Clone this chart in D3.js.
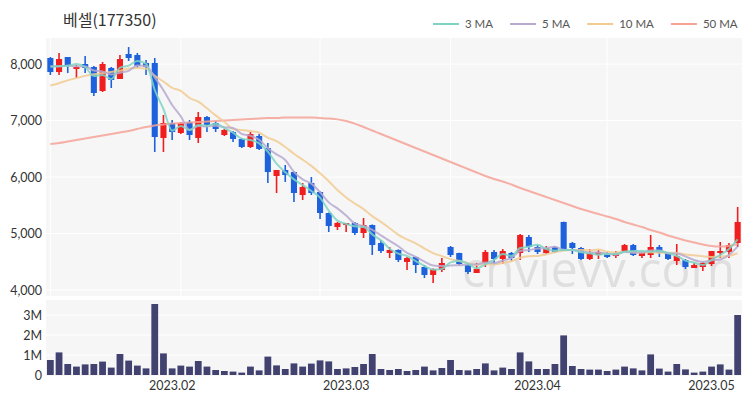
<!DOCTYPE html>
<html><head><meta charset="utf-8">
<script src="https://cdn.jsdelivr.net/npm/d3@7"></script>
<style>body{margin:0;background:#fff} svg{display:block}</style>
</head><body><svg id="c" width="750" height="400"></svg>
<script>
const title = "베셀(177350)";
const dates = [
"2023-01-10","2023-01-11","2023-01-12","2023-01-13","2023-01-16","2023-01-17","2023-01-18","2023-01-19","2023-01-20","2023-01-25","2023-01-26","2023-01-27","2023-01-30","2023-01-31",
"2023-02-01","2023-02-02","2023-02-03","2023-02-06","2023-02-07","2023-02-08","2023-02-09","2023-02-10","2023-02-13","2023-02-14","2023-02-15","2023-02-16","2023-02-17","2023-02-20","2023-02-21","2023-02-22","2023-02-23","2023-02-24","2023-02-27","2023-02-28",
"2023-03-02","2023-03-03","2023-03-06","2023-03-07","2023-03-08","2023-03-09","2023-03-10","2023-03-13","2023-03-14","2023-03-15","2023-03-16","2023-03-17","2023-03-20","2023-03-21","2023-03-22","2023-03-23","2023-03-24","2023-03-27","2023-03-28","2023-03-29","2023-03-30","2023-03-31",
"2023-04-03","2023-04-04","2023-04-05","2023-04-06","2023-04-07","2023-04-10","2023-04-11","2023-04-12","2023-04-13","2023-04-14","2023-04-17","2023-04-18","2023-04-19","2023-04-20","2023-04-21","2023-04-24","2023-04-25","2023-04-26","2023-04-27","2023-04-28",
"2023-05-02","2023-05-03","2023-05-04","2023-05-08"];
const opens  = [8106,7858,8124,7912,8000,7947,7522,7930,7735,8177,8159,8018,8018,6690,6956,6779,6973,6690,7062,6956,6743,6796,6673,6531,6726,6513,6018,6124,6088,5681,5894,5735,5363,5115,5150,5186,5009,5150,4832,4655,4708,4496,4584,4407,4266,4354,4761,4655,4442,4301,4478,4673,4549,4655,4655,4938,4761,4655,4761,5204,4832,4743,4549,4619,4655,4602,4690,4796,4602,4619,4761,4655,4513,4531,4389,4407,4460,4655,4673,4832];
const highs  = [8124,8195,8124,7982,8140,7965,8035,7947,8159,8300,8195,8070,8106,7097,7009,6973,7009,7150,7080,6991,6850,6814,6690,6796,6761,6602,6124,6212,6100,5894,6000,5750,5370,5204,5186,5204,5274,5160,4885,4761,4720,4584,4590,4442,4380,4566,4779,4660,4460,4478,4708,4708,4726,4673,4991,4973,4796,4779,4779,5210,4850,4761,4726,4708,4673,4690,4814,4814,4673,4973,4796,4660,4814,4549,4478,4496,4690,4850,4832,5469];
const lows   = [7805,7805,7840,7752,7840,7434,7504,7575,7735,8053,7930,7805,6442,6442,6655,6761,6655,6602,6796,6796,6726,6620,6513,6513,6478,5894,5717,5912,5558,5593,5681,5257,5027,5062,5027,4973,4920,4620,4655,4566,4496,4354,4301,4212,4124,4318,4584,4442,4283,4301,4407,4478,4460,4513,4531,4673,4637,4637,4655,4690,4637,4531,4531,4549,4566,4566,4673,4602,4566,4566,4584,4531,4442,4372,4389,4336,4425,4566,4566,4761];
const closes = [7858,8088,7965,7947,7930,7487,8000,7717,8088,8106,7965,7947,6708,6956,6796,6956,6743,7062,6920,6850,6832,6673,6531,6761,6496,6088,6124,6035,5717,5823,5717,5363,5133,5186,5186,5009,5150,4796,4690,4708,4531,4566,4442,4266,4372,4478,4619,4460,4318,4372,4673,4549,4690,4566,4973,4761,4673,4743,4673,4708,4743,4549,4655,4673,4584,4655,4796,4619,4655,4761,4655,4549,4602,4407,4442,4478,4690,4690,4796,5204];
const volumes = [750000,1130000,550000,420000,530000,550000,670000,370000,1050000,720000,470000,330000,3550000,1080000,330000,470000,420000,700000,420000,250000,200000,170000,120000,420000,230000,920000,480000,300000,580000,420000,570000,730000,680000,300000,330000,400000,550000,1050000,300000,250000,300000,200000,250000,420000,230000,350000,750000,250000,230000,300000,580000,230000,370000,300000,1130000,680000,300000,300000,550000,1980000,450000,300000,270000,270000,200000,270000,420000,330000,230000,1030000,320000,170000,550000,280000,120000,170000,420000,530000,270000,3000000];
// moving-average values before the full window is available
const ma3Lead  = [7950,7960];
const ma5Lead  = [7960,7960,7970,7960];
const ma10Lead = [7620,7660,7710,7750,7790,7820,7840,7860,7880];
const ma50 = [6584,6602,6628,6655,6681,6708,6734,6761,6787,6814,6850,6885,6912,6929,6947,6956,6965,6973,6982,6991,7000,7009,7018,7027,7035,7044,7044,7053,7053,7053,7053,7044,7035,7020,6990,6945,6885,6823,6761,6699,6637,6575,6513,6451,6389,6327,6265,6204,6142,6080,6018,5965,5920,5867,5805,5752,5699,5646,5593,5540,5487,5434,5389,5345,5301,5257,5204,5159,5115,5062,5018,4965,4920,4876,4841,4805,4779,4770,4779,4815];
const priceTicks = [4000,5000,6000,7000,8000];
const volTicks = [0,1000000,2000000,3000000];
const monthTicks = ["2023-02-01","2023-03-02","2023-04-03","2023-05-02"];
const monthLabels = ["2023.02","2023.03","2023.04","2023.05"];
const gridDates = ["2023-01-10","2023-02-02","2023-02-24","2023-03-20","2023-04-13"];
const legendNames = ["3 MA","5 MA","10 MA","50 MA"];
const legendColors = ["#7fd3c3","#b7a9cf","#f2cb92","#f5a297"];

function movingAvg(n, lead){
  return closes.map((c,i)=> i < n-1 ? lead[i] : d3.mean(closes.slice(i-n+1,i+1)));
}
const ma3 = movingAvg(3, ma3Lead), ma5 = movingAvg(5, ma5Lead), ma10 = movingAvg(10, ma10Lead);
const maSeries = [ma3, ma5, ma10, ma50];

const svg = d3.select('#c');
const L=46, R=742, mainTop=38, mainBot=296, volTop=300, volBot=376;
const font = "Lato, 'Noto Sans', sans-serif";
const x = d3.scaleBand().domain(dates).range([L,R]).paddingInner(0.3).paddingOuter(0.15);
const xv = d3.scaleBand().domain(dates).range([L,R]).paddingInner(0.22).paddingOuter(0.11);
const cx = d => x(d) + x.bandwidth()/2;
const y = d3.scaleLinear().domain([4000,8000]).range([290,64]);
const yv = d3.scaleLinear().domain([0,3000000]).range([375,315]);

// panels
svg.append('rect').attr('x',L).attr('y',mainTop).attr('width',R-L).attr('height',mainBot-mainTop).attr('fill','#f6f6f7');
svg.append('rect').attr('x',L).attr('y',volTop).attr('width',R-L).attr('height',volBot-volTop).attr('fill','#f6f6f7');
// grid
svg.append('g').selectAll('line').data(priceTicks).join('line')
  .attr('x1',L).attr('x2',R).attr('y1',d=>y(d)).attr('y2',d=>y(d)).attr('stroke','#ffffff').attr('stroke-width',1);
svg.append('g').selectAll('line').data(gridDates).join('line')
  .attr('x1',d=>cx(d)).attr('x2',d=>cx(d)).attr('y1',mainTop).attr('y2',mainBot).attr('stroke','#ffffff').attr('stroke-width',1);
svg.append('g').selectAll('line').data(volTicks.slice(1)).join('line')
  .attr('x1',L).attr('x2',R).attr('y1',d=>yv(d)).attr('y2',d=>yv(d)).attr('stroke','#ffffff').attr('stroke-width',1);

// watermark
svg.append('text').attr('x',462).attr('y',287).attr('textLength',273).attr('lengthAdjust','spacingAndGlyphs')
  .style('font-family',"'Open Sans', sans-serif").style('font-size','50px').attr('fill','#dcdcdc').attr('opacity',0.85)
  .text('cnvievv.com');

// title
svg.append('text').attr('x',63).attr('y',26).style('font-family',"'Noto Sans CJK KR', sans-serif").style('font-size','16px')
  .attr('fill','#333').text(title);

// legend
const lg = svg.append('g');
let lx = 433;
legendNames.forEach((n,i)=>{
  lg.append('line').attr('x1',lx).attr('x2',lx+26).attr('y1',24).attr('y2',24).attr('stroke',legendColors[i]).attr('stroke-width',2);
  const t = lg.append('text').attr('x',lx+32).attr('y',28).style('font-family',font).style('font-size','11.5px').attr('fill','#555').text(n);
  lx += 32 + t.node().getComputedTextLength() + 17;
});

// candles
const idx = d3.range(dates.length);
const up = i => closes[i] >= opens[i];
const colUp = '#f01e1e', colDn = '#1d62dc';
const cg = svg.append('g');
cg.selectAll('line.wick').data(idx).join('line').attr('class','wick')
  .attr('x1',i=>cx(dates[i])).attr('x2',i=>cx(dates[i]))
  .attr('y1',i=>y(highs[i])).attr('y2',i=>y(lows[i]))
  .attr('stroke',i=>up(i)?colUp:colDn).attr('stroke-width',1.6);
cg.selectAll('rect.body').data(idx).join('rect').attr('class','body')
  .attr('x',i=>x(dates[i])).attr('width',x.bandwidth())
  .attr('y',i=>y(Math.max(opens[i],closes[i])))
  .attr('height',i=>Math.max(1.5, Math.abs(y(opens[i])-y(closes[i]))))
  .attr('fill',i=>up(i)?colUp:colDn);

// moving averages
const line = d3.line().x((v,i)=>cx(dates[i])).y(v=>y(v)).curve(d3.curveMonotoneX);
svg.append('g').selectAll('path').data([3,2,1,0]).join('path')
  .attr('d',k=>line(maSeries[k])).attr('fill','none').attr('stroke',k=>legendColors[k])
  .attr('stroke-width',2).attr('opacity',0.85);

// volume
svg.append('g').selectAll('rect').data(idx).join('rect')
  .attr('x',i=>xv(dates[i])).attr('width',xv.bandwidth())
  .attr('y',i=>yv(volumes[i])).attr('height',i=>yv(0)-yv(volumes[i])).attr('fill','#424270');

// axes
const ya = svg.append('g').attr('transform',`translate(${L},0)`)
  .call(d3.axisLeft(y).tickValues(priceTicks).tickSize(0).tickPadding(4).tickFormat(d3.format(',')));
const yva = svg.append('g').attr('transform',`translate(${L},0)`)
  .call(d3.axisLeft(yv).tickValues(volTicks).tickSize(0).tickPadding(4).tickFormat(d=>d===0?'0':(d/1e6)+'M'));
const xa = svg.append('g').attr('transform',`translate(0,${volBot-1})`)
  .call(d3.axisBottom(x).tickValues(monthTicks).tickSize(0).tickPadding(6).tickFormat(d=>monthLabels[monthTicks.indexOf(d)]));
[ya,yva,xa].forEach(a=>{
  a.select('.domain').remove();
  a.selectAll('text').style('font-family',font).style('font-size','12.5px').attr('fill','#333');
});
</script></body></html>
